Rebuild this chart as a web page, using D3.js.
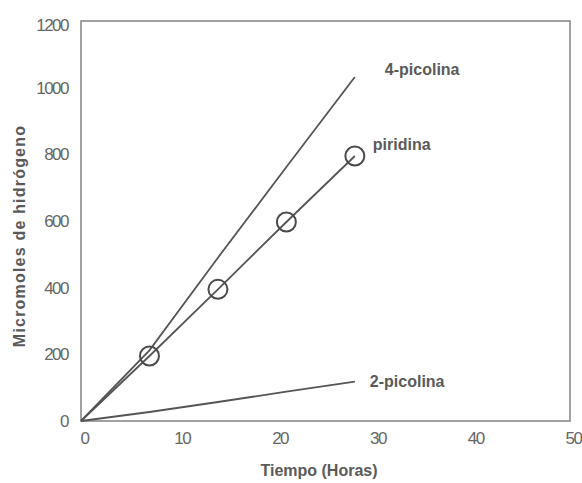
<!DOCTYPE html>
<html>
<head>
<meta charset="utf-8">
<script src="https://cdn.jsdelivr.net/npm/d3@7"></script>
<style>
  html, body { margin: 0; padding: 0; background: #fff; }
  svg { display: block; }
</style>
</head>
<body>
<script>
const hours = [0, 7, 14, 21, 28];
const piridina = [0, 195, 395, 597, 795];
const picolina4 = [0, 212, 490, 762, 1032];
const picolina2 = [0, 27, 57, 88, 118];
const xTicks = [0, 10, 20, 30, 40, 50];
const yTicks = [0, 200, 400, 600, 800, 1000, 1200];
const seriesLabels = ["4-picolina", "piridina", "2-picolina"];

const W = 582, H = 483;
const m = { left: 81, right: 570, top: 21, bottom: 421 };

const svg = d3.select("body").append("svg").attr("width", W).attr("height", H);

const x = d3.scaleLinear().domain([0, 50]).range([m.left, m.right]);
const y = d3.scaleLinear().domain([0, 1200]).range([m.bottom, m.top]);

const txt = "#5a5a5a";
const lineCol = "#555";

// frame
svg.append("rect")
  .attr("x", m.left).attr("y", m.top)
  .attr("width", m.right - m.left).attr("height", m.bottom - m.top)
  .attr("fill", "none").attr("stroke", "#8a8a8a").attr("stroke-width", 1.6);

// axes (labels only)
const xAxis = svg.append("g").attr("transform", `translate(3,${m.bottom})`)
  .call(d3.axisBottom(x).tickValues(xTicks).tickFormat(d3.format("d")).tickSize(0).tickPadding(9));
const yAxis = svg.append("g").attr("transform", `translate(${m.left},0)`)
  .call(d3.axisLeft(y).tickValues(yTicks).tickFormat(d3.format("d")).tickSize(0).tickPadding(13));
[xAxis, yAxis].forEach(g => {
  g.select(".domain").remove();
  g.selectAll("text")
    .attr("fill", "#666")
    .style("font-family", "'Liberation Sans', Arial, sans-serif")
    .style("font-size", "17px")
    .style("letter-spacing", "-1.5px");
});
xAxis.selectAll("text").attr("dy", "0.85em");
yAxis.selectAll("text").filter(d => d === 1200).attr("dy", "0.55em");

// lines
const line = d3.line().x(d => x(d[0])).y(d => y(d[1]));
const seriesData = [picolina4, piridina, picolina2].map(vals => hours.map((h, i) => [h, vals[i]]));
svg.selectAll("path.series").data(seriesData).enter().append("path")
  .attr("class", "series")
  .attr("d", line)
  .attr("fill", "none")
  .attr("stroke", lineCol)
  .attr("stroke-width", 1.8);

// circles for piridina
svg.selectAll("circle.pt").data(hours.slice(1).map((h, i) => [h, piridina[i + 1]]))
  .enter().append("circle")
  .attr("class", "pt")
  .attr("cx", d => x(d[0])).attr("cy", d => y(d[1]))
  .attr("r", 9.5)
  .attr("fill", "none")
  .attr("stroke", "#4a4a4a")
  .attr("stroke-width", 2);

// series labels
const labelPos = [
  { dx: 30, dy: -2, v: picolina4[4] },
  { dx: 18, dy: -6, v: piridina[4] },
  { dx: 15, dy: 5, v: picolina2[4] }
];
seriesLabels.forEach((t, i) => {
  svg.append("text")
    .attr("x", x(hours[4]) + labelPos[i].dx)
    .attr("y", y(labelPos[i].v) + labelPos[i].dy)
    .attr("fill", txt)
    .style("font-family", "'Liberation Sans', Arial, sans-serif")
    .style("font-weight", "bold")
    .style("font-size", "16px")
    .text(t);
});

// axis titles
svg.append("text")
  .attr("x", 319)
  .attr("y", 476)
  .attr("text-anchor", "middle")
  .attr("fill", txt)
  .style("font-family", "'Liberation Sans', Arial, sans-serif")
  .style("font-weight", "bold")
  .style("font-size", "16px")
  .text("Tiempo (Horas)");

svg.append("text")
  .attr("transform", `translate(25,236) rotate(-90)`)
  .attr("text-anchor", "middle")
  .attr("fill", txt)
  .style("font-family", "'Liberation Sans', Arial, sans-serif")
  .style("font-weight", "bold")
  .style("font-size", "16px")
  .style("letter-spacing", "1.2px")
  .text("Micromoles de hidrógeno");
</script>
</body>
</html>
